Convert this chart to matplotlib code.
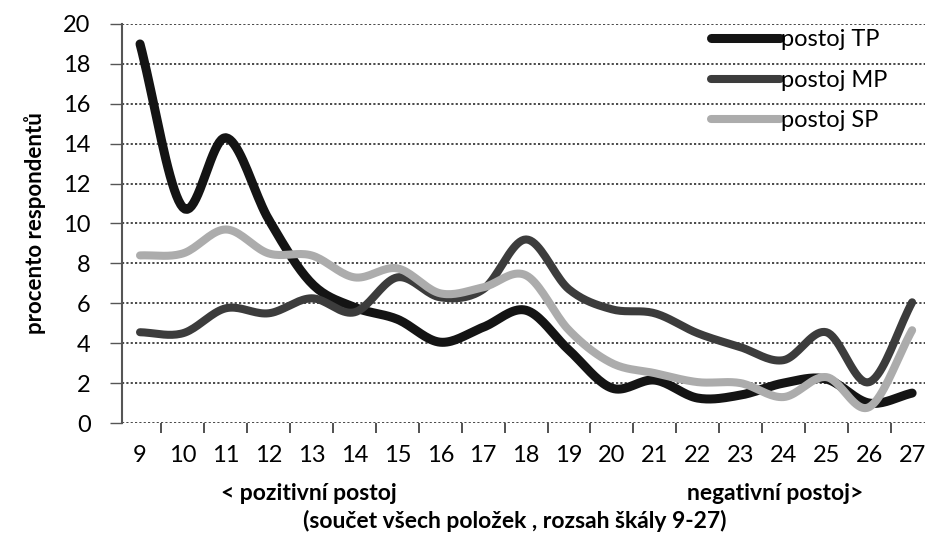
import numpy as np
import matplotlib
matplotlib.use("Agg")
import matplotlib.pyplot as plt

# ---- data ----
categories = list(range(9, 28))
tp = [19.0, 10.8, 14.3, 10.2, 7.0, 5.8, 5.2, 4.05, 4.8, 5.65, 3.65, 1.75, 2.15, 1.25, 1.4, 2.0, 2.2, 1.0, 1.5]
mp = [4.55, 4.5, 5.75, 5.5, 6.25, 5.55, 7.3, 6.3, 6.7, 9.2, 6.7, 5.7, 5.5, 4.5, 3.8, 3.15, 4.55, 2.05, 6.05]
sp = [8.4, 8.5, 9.7, 8.5, 8.4, 7.3, 7.75, 6.5, 6.8, 7.4, 4.65, 3.0, 2.5, 2.05, 2.0, 1.3, 2.3, 0.8, 4.65]
series_names = ["postoj TP", "postoj MP", "postoj SP"]
y_ticks = list(range(0, 21, 2))

plt.rcParams['font.family'] = ['Lato', 'DejaVu Sans']


def smooth(x, y, n=20):
    """Catmull-Rom style smoothing (like Excel's smoothed line) for display."""
    x = np.asarray(x, float)
    y = np.asarray(y, float)
    px = np.concatenate([[2 * x[0] - x[1]], x, [2 * x[-1] - x[-2]]])
    py = np.concatenate([[2 * y[0] - y[1]], y, [2 * y[-1] - y[-2]]])
    xs, ys = [], []
    t = np.linspace(0, 1, n, endpoint=False)
    for i in range(1, len(px) - 2):
        p0, p1, p2, p3 = (np.array([px[j], py[j]]) for j in (i - 1, i, i + 1, i + 2))
        c1 = p1 + (p2 - p0) / 6.0
        c2 = p2 - (p3 - p1) / 6.0
        pts = ((1 - t) ** 3)[:, None] * p1 + (3 * (1 - t) ** 2 * t)[:, None] * c1 + \
              (3 * (1 - t) * t ** 2)[:, None] * c2 + (t ** 3)[:, None] * p2
        xs.append(pts[:, 0]); ys.append(pts[:, 1])
    xs.append([x[-1]]); ys.append([y[-1]])
    return np.concatenate(xs), np.concatenate(ys)


fig = plt.figure(figsize=(9.25, 5.4), dpi=100)
ax = fig.add_axes([122 / 925, 1 - 423 / 540, 1 - 122 / 925, (423 - 24) / 540])

colors = ["#141414", "#3c3c3c", "#acacac"]
widths = [6.5, 5.8, 5.8]
for vals, name, c, w in zip([tp, mp, sp], series_names, colors, widths):
    sx, sy = smooth(categories, vals)
    ax.plot(sx, sy, color=c, lw=w, label=name, solid_capstyle='round', solid_joinstyle='round')

ax.set_xlim(8.58, 27.3)
ax.set_ylim(0, 20)
ax.set_yticks(y_ticks)
ax.set_yticklabels([str(v) for v in y_ticks], fontsize=17)
ax.yaxis.grid(True, linestyle=(0, (1.2, 1.2)), color='#3a3a3a', lw=1.3)
ax.set_axisbelow(True)

# x: labels at categories, tick marks between categories
ax.set_xticks(categories)
ax.set_xticklabels([str(c) for c in categories], fontsize=17)
ax.tick_params(axis='x', which='major', length=0, pad=16)
ax.set_xticks([c + 0.5 for c in categories[:-1]], minor=True)
ax.tick_params(axis='x', which='minor', length=7, width=1.2, color='#333333', direction='out')
ax.tick_params(axis='y', length=8.6, width=1, color='#555555', pad=14)

for s in ['top', 'right']:
    ax.spines[s].set_visible(False)
ax.spines['left'].set_color('#555555')
ax.spines['left'].set_linewidth(1.5)
ax.spines['bottom'].set_visible(False)

ax.set_ylabel("procento respondentů", fontsize=16, fontweight='bold', labelpad=12)

fig.text(309 / 925, 1 - 493 / 540, "< pozitivní postoj", fontsize=16.5, fontweight='bold',
         ha='center', va='center')
fig.text(775 / 925, 1 - 493 / 540, "negativní postoj>", fontsize=16.5, fontweight='bold',
         ha='center', va='center')
fig.text(515 / 925, 1 - 521 / 540, "(součet všech položek , rozsah škály 9-27)", fontsize=16.5,
         fontweight='bold', ha='center', va='center')

leg = ax.legend(loc='upper left', bbox_to_anchor=((702 - 122) / (925 - 122), 1.01), frameon=False,
                fontsize=17, handlelength=2.9, handletextpad=0.05, labelspacing=0.82,
                borderaxespad=0.0)

fig.savefig("out.png", dpi=100)
